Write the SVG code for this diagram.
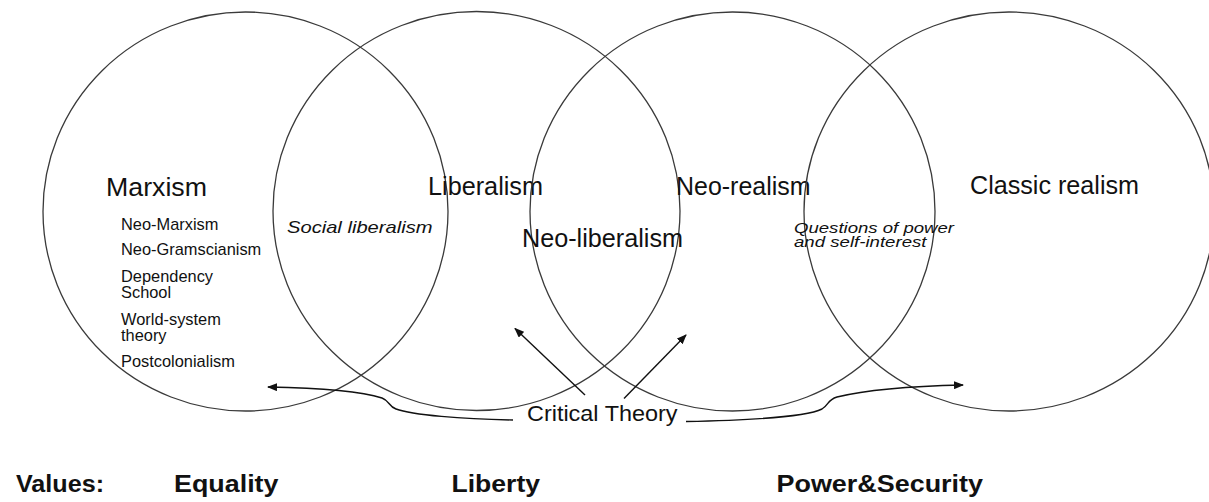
<svg xmlns="http://www.w3.org/2000/svg" width="1209" height="502" viewBox="0 0 1209 502">
<style>
.c{fill:none;stroke:#3a3a3a;stroke-width:1.3}
.t{font-family:"Liberation Sans",Arial,sans-serif;fill:#111}
.main{font-size:25px}
.sub{font-size:16.4px}
.it{font-size:17px;font-style:italic}
.q{font-size:15.4px;font-style:italic}
.ct{font-size:22.5px}
.b{font-size:23.5px;font-weight:bold}
.a{fill:none;stroke:#111;stroke-width:1.4}
</style>
<defs>
<marker id="ah" viewBox="0 0 10 8" refX="9" refY="4" markerWidth="10" markerHeight="8" markerUnits="userSpaceOnUse" orient="auto">
<path d="M0,0 L10,4 L0,8 Z" fill="#111"/>
</marker>
</defs>
<rect width="1209" height="502" fill="#fff"/>
<g id="marxism">
<ellipse class="c" cx="245.5" cy="211.5" rx="202.5" ry="199.5"/>
<text class="t main" x="106" y="196" textLength="101" lengthAdjust="spacingAndGlyphs">Marxism</text>
<text class="t sub" x="121" y="230">Neo-Marxism</text>
<text class="t sub" x="121" y="255">Neo-Gramscianism</text>
<text class="t sub" x="121" y="281.5">Dependency</text>
<text class="t sub" x="121" y="297.5">School</text>
<text class="t sub" x="121" y="325">World-system</text>
<text class="t sub" x="121" y="341">theory</text>
<text class="t sub" x="121" y="367">Postcolonialism</text>
</g>
<g id="liberalism">
<ellipse class="c" cx="476.5" cy="211" rx="203.5" ry="199.5"/>
<text class="t main" x="428" y="195" textLength="115" lengthAdjust="spacingAndGlyphs">Liberalism</text>
<text class="t it" x="287" y="233" textLength="145.5" lengthAdjust="spacingAndGlyphs">Social liberalism</text>
</g>
<g id="neorealism">
<ellipse class="c" cx="732.5" cy="211.5" rx="202.5" ry="199.5"/>
<text class="t main" x="676" y="194.5" textLength="134.5" lengthAdjust="spacingAndGlyphs">Neo-realism</text>
<text class="t main" x="522" y="246.5" textLength="161" lengthAdjust="spacingAndGlyphs">Neo-liberalism</text>
</g>
<g id="classicrealism">
<ellipse class="c" cx="1009" cy="211.5" rx="205" ry="199.5"/>
<text class="t main" x="970" y="194" textLength="169" lengthAdjust="spacingAndGlyphs">Classic realism</text>
<text class="t q" x="794" y="232.5" textLength="160" lengthAdjust="spacingAndGlyphs">Questions of power</text>
<text class="t q" x="794" y="246.5" textLength="132.5" lengthAdjust="spacingAndGlyphs">and self-interest</text>
</g>
<g id="critical-theory">
<text class="t ct" x="527" y="420.5" textLength="150.5" lengthAdjust="spacingAndGlyphs">Critical Theory</text>
</g>
<g id="connectors">
<path class="a" marker-end="url(#ah)" d="M513,420 C462,419 412,415 396,409 C388,406 390,401 382,398 C360,391 320,388 268,387"/>
<path class="a" marker-end="url(#ah)" d="M686,421.5 C760,420 808,416 822,409 C829,405 827,400 837,397 C870,389 920,386 963,385"/>
<path class="a" marker-end="url(#ah)" d="M585,395 L515,328.5"/>
<path class="a" marker-end="url(#ah)" d="M624,398.5 L686,335"/>
</g>
<g id="values">
<text class="t b" x="16" y="491.5" textLength="88" lengthAdjust="spacingAndGlyphs">Values:</text>
<text class="t b" x="174" y="491.5" textLength="104.5" lengthAdjust="spacingAndGlyphs">Equality</text>
<text class="t b" x="451.5" y="491.5" textLength="88.5" lengthAdjust="spacingAndGlyphs">Liberty</text>
<text class="t b" x="776.5" y="491.5" textLength="206.5" lengthAdjust="spacingAndGlyphs">Power&amp;Security</text>
</g>
</svg>
